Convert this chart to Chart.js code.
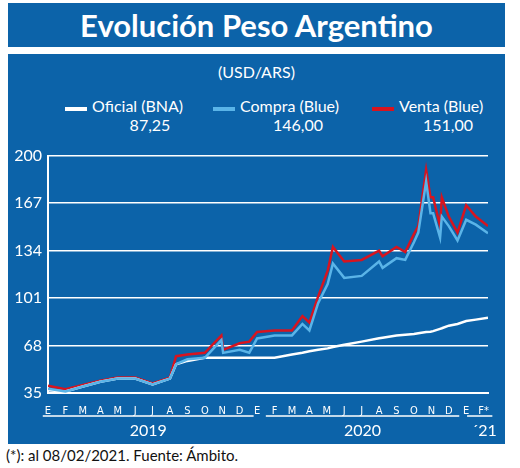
<!DOCTYPE html>
<html>
<head>
<meta charset="utf-8">
<script src="https://cdn.jsdelivr.net/npm/chart.js@4/dist/chart.umd.min.js"></script>
<style>
  body { margin: 0; width: 520px; height: 468px; background: #fff; font-family: Lato, "Open Sans", sans-serif; position: relative; overflow: hidden; }
  .box { position: absolute; left: 8px; width: 497px; background: #0c63a9; color: #fff; }
  #title { top: 3px; height: 44px; font-size: 31px; font-weight: bold; text-align: center; line-height: 44px; }
  #panel { top: 54px; height: 390px; }
  .t { position: absolute; color: #fff; font-size: 16px; text-align: center; white-space: nowrap; }
  .sw { position: absolute; height: 4px; width: 22px; }
  #wrap { position: absolute; left: 0; top: 86px; width: 497px; height: 304px; }
  #note { position: absolute; left: 6px; top: 446px; font-size: 15px; color: #111; }
</style>
</head>
<body>
<div id="title" class="box">Evolución Peso Argentino</div>
<div id="panel" class="box">
  <div class="t" style="left:0;width:497px;top:8px">(USD/ARS)</div>
  <div id="legend"></div>
  <div id="wrap"><canvas id="myChart" width="497" height="304" style="width:497px;height:304px"></canvas></div>
</div>
<div id="note">(*): al 08/02/2021. Fuente: Ámbito.</div>
<script>
'use strict';

// x position in months since 1 Jan 2019
var months = [0, 1, 2, 3, 4, 5, 6, 7, 7.35, 8, 9, 9.95, 10.05, 11, 11.55, 12, 13, 14, 14.6, 15, 15.5, 16.05, 16.35, 17, 18, 19, 19.2, 20, 20.5, 21, 21.25, 21.7, 21.95, 22.1, 22.5, 22.6, 23, 23.5, 24, 24.55, 25.25];
var oficial = [37, 36, 39.5, 42.8, 45, 45, 41, 45, 55, 57.3, 59.5, 59.5, 59.5, 59.5, 59.5, 59.5, 59.5, 61.8, 63, 64, 65, 66, 67, 68.5, 70.7, 73, 73.4, 75, 75.5, 76, 76.5, 77.4, 77.6, 78, 79.6, 80, 81.8, 83, 85, 86, 87.25];
var compra = [38, 36, 39.5, 42.8, 45, 45, 41, 45, 55, 58.4, 59.5, 71.8, 62.9, 65, 63, 72.9, 75, 75, 83, 78.5, 97.4, 110.8, 125, 115, 116.4, 126.4, 122, 128.7, 127.5, 139.8, 146.5, 182, 160, 160, 143, 157.6, 151, 141, 155.4, 152, 146];
var venta = [40, 37.7, 40.6, 43.5, 45.7, 45.7, 41.7, 45.7, 60.6, 61.8, 62.9, 75, 65, 69.6, 70.7, 77.4, 78.5, 78.5, 88.5, 84, 102, 120, 136.5, 126.4, 127.5, 134, 130, 136.5, 133, 145.4, 151, 190, 171, 171, 151, 171, 157.6, 146.5, 165.5, 157.6, 151];
var monthLabels = ['E', 'F', 'M', 'A', 'M', 'J', 'J', 'A', 'S', 'O', 'N', 'D', 'E', 'F', 'M', 'A', 'M', 'J', 'J', 'A', 'S', 'O', 'N', 'D', 'E', 'F*'];
var yTicks = [35, 68, 101, 134, 167, 200];
var years = [{ label: '2019', from: -0.3, to: 11.8 }, { label: '2020', from: 12.5, to: 23.6 }, { label: '\u00b421', from: 24.05, to: 25.5 }];
var legendItems = [
   { name: 'Oficial (BNA)', value: '87,25', color: '#ffffff', left: 57, center: 142 },
   { name: 'Compra (Blue)', value: '146,00', color: '#5ab4e8', left: 205, center: 290 },
   { name: 'Venta (Blue)', value: '151,00', color: '#d7141f', left: 364, center: 440 }
];

/***** LEGEND *****/
var legendHtml = '';
legendItems.forEach(function (it) {
   legendHtml += '<div class="sw" style="left:' + it.left + 'px;top:53px;background:' + it.color + '"></div>';
   legendHtml += '<div class="t" style="left:' + (it.left + 27) + 'px;top:42px">' + it.name + '</div>';
   legendHtml += '<div class="t" style="left:' + (it.center - 50) + 'px;width:100px;top:61px">' + it.value + '</div>';
});
document.getElementById('legend').innerHTML = legendHtml;

function pts(arr) {
   return arr.map(function (v, i) { return { x: months[i], y: v }; });
}

// year underlines + labels below the month ticks
var yearPlugin = {
   id: 'years',
   afterDraw: function (chart) {
      var ctx = chart.ctx, xs = chart.scales.x;
      ctx.save();
      ctx.strokeStyle = '#fff';
      ctx.fillStyle = '#fff';
      ctx.lineWidth = 1.5;
      ctx.font = '16px Lato, sans-serif';
      ctx.textAlign = 'center';
      years.forEach(function (y) {
         var a = xs.getPixelForValue(y.from), b = xs.getPixelForValue(y.to);
         ctx.beginPath();
         ctx.moveTo(a, 276); ctx.lineTo(b, 276);
         ctx.stroke();
         ctx.fillText(y.label, y.label.length > 3 ? (a + b) / 2 : b - 8, 296);
      });
      ctx.restore();
   }
};

function line(label, data, color, width) {
   return { label: label, data: pts(data), borderColor: color, borderWidth: width, pointRadius: 0, tension: 0 };
}

new Chart(document.getElementById('myChart'), {
   type: 'line',
   data: {
      datasets: [
         line('Compra (Blue)', compra, '#5ab4e8', 2.5),
         line('Oficial (BNA)', oficial, '#ffffff', 2.5),
         line('Venta (Blue)', venta, '#d7141f', 2.5)
      ]
   },
   options: {
      responsive: false,
      animation: false,
      maintainAspectRatio: false,
      layout: { padding: { top: 7, right: 17, left: 0, bottom: 0 } },
      plugins: { legend: { display: false }, tooltip: { enabled: false } },
      scales: {
         x: {
            type: 'linear', min: 0, max: 25.25,
            afterFit: function (s) { s.height = 51; },
            afterBuildTicks: function (s) { s.ticks = monthLabels.map(function (m, i) { return { value: i }; }); },
            grid: { display: false },
            border: { color: '#fff', width: 2 },
            ticks: {
               color: '#fff', font: { size: 11, family: 'Liberation Sans Narrow, DejaVu Sans Condensed, sans-serif' },
               maxRotation: 0, autoSkip: false, padding: 4,
               callback: function (v) { return monthLabels[v]; }
            }
         },
         y: {
            min: 35, max: 200,
            afterFit: function (s) { s.width = 40; },
            afterBuildTicks: function (s) { s.ticks = yTicks.map(function (v) { return { value: v }; }); },
            grid: { color: '#fff', lineWidth: 1.5, drawTicks: false },
            border: { color: '#fff', width: 2 },
            ticks: { color: '#fff', font: { size: 16, family: 'Lato, sans-serif' }, padding: 6, autoSkip: false }
         }
      }
   },
   plugins: [yearPlugin]
});
</script>
</body>
</html>
